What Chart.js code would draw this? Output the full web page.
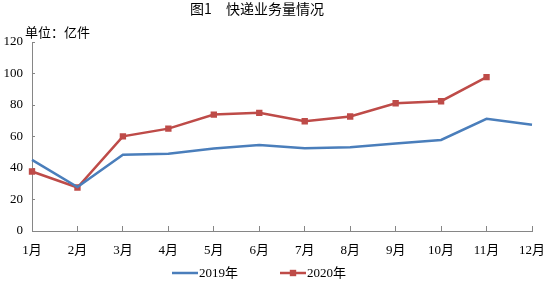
<!DOCTYPE html>
<html>
<head>
<meta charset="utf-8">
<script src="https://cdn.jsdelivr.net/npm/chart.js@4/dist/chart.umd.min.js"></script>
<style>
html,body{margin:0;padding:0;background:#fff;}
#wrap{width:545px;height:281px;}
</style>
</head>
<body>
<div id="wrap"><canvas id="c" width="545" height="281"></canvas></div>
<script>
const categories = ['1月','2月','3月','4月','5月','6月','7月','8月','9月','10月','11月','12月'];
const series2019 = [45.2, 27.9, 48.4, 49.1, 52.4, 54.6, 52.5, 53.1, 55.6, 57.8, 71.2, 67.4];
const series2020 = [37.8, 27.6, 60.1, 65.0, 73.9, 75.0, 69.7, 72.7, 81.1, 82.4, 97.7];
const seriesNames = ['2019年', '2020年'];
const yTicks = [0, 20, 40, 60, 80, 100, 120];
const titleText = '图1　快递业务量情况';
const unitText = '单位：亿件';

const BLUE = '#4a7ebb';
const RED = '#be4b48';
const AXIS = '#868686';
const SERIF = "'Liberation Serif', 'Times New Roman', 'Noto Sans CJK SC', serif";
const CJK = "'Noto Sans CJK SC', sans-serif";

const extras = {
  id: 'extras',
  afterDraw(chart) {
    const ctx = chart.ctx;
    ctx.save();
    // title
    ctx.fillStyle = '#000';
    ctx.font = '14px ' + CJK;
    ctx.textAlign = 'center';
    ctx.textBaseline = 'middle';
    ctx.fillText(titleText, 257, 9);
    // unit
    ctx.font = '13px ' + CJK;
    ctx.textAlign = 'left';
    ctx.fillText(unitText, 25, 32);
    // legend
    const items = chart.data.datasets;
    const starts = [172, 280];
    const ly = 273;
    items.forEach((ds, i) => {
      const x0 = starts[i];
      ctx.strokeStyle = ds.borderColor;
      ctx.lineWidth = 2.5;
      ctx.beginPath();
      ctx.moveTo(x0, ly);
      ctx.lineTo(x0 + 26, ly);
      ctx.stroke();
      if (ds.pointRadius > 0) {
        ctx.fillStyle = ds.pointBackgroundColor;
        ctx.fillRect(x0 + 13 - 3.2, ly - 3.2, 6.4, 6.4);
      }
      ctx.fillStyle = '#000';
      ctx.font = '13px ' + SERIF;
      ctx.textAlign = 'left';
      ctx.textBaseline = 'middle';
      ctx.fillText(ds.label, x0 + 27, ly + 1);
    });
    ctx.restore();
  }
};

new Chart(document.getElementById('c'), {
  type: 'line',
  data: {
    labels: categories,
    datasets: [
      {
        label: seriesNames[0],
        data: series2019,
        borderColor: BLUE,
        backgroundColor: BLUE,
        borderWidth: 2.5,
        pointRadius: 0,
        pointHoverRadius: 0,
        tension: 0,
        fill: false
      },
      {
        label: seriesNames[1],
        data: series2020,
        borderColor: RED,
        backgroundColor: RED,
        pointBackgroundColor: RED,
        pointBorderColor: RED,
        pointStyle: 'rect',
        pointRadius: 4.5,
        pointBorderWidth: 0,
        borderWidth: 2.5,
        tension: 0,
        fill: false
      }
    ]
  },
  options: {
    responsive: false,
    animation: false,
    layout: { padding: { top: 42, left: 0, right: 13, bottom: 25 } },
    plugins: {
      legend: { display: false },
      title: { display: false },
      tooltip: { enabled: false }
    },
    scales: {
      x: {
        type: 'category',
        offset: false,
        grid: {
          display: true,
          drawOnChartArea: false,
          drawTicks: true,
          tickLength: -5,
          color: AXIS,
          lineWidth: 1
        },
        border: { display: true, color: AXIS, width: 1 },
        ticks: {
          color: '#000',
          font: { family: SERIF, size: 13 },
          padding: 17,
          maxRotation: 0,
          autoSkip: false
        },
        afterFit(scale) {
          scale.height = 25;
          scale.paddingLeft = 11;
          scale.paddingRight = 11;
        }
      },
      y: {
        min: 0,
        max: 120,
        afterBuildTicks(scale) { scale.ticks = yTicks.map(v => ({ value: v })); },
        grid: {
          display: true,
          drawOnChartArea: false,
          drawTicks: true,
          tickLength: -3,
          color: AXIS
        },
        border: { display: true, color: AXIS, width: 1 },
        ticks: {
          color: '#000',
          font: { family: SERIF, size: 13 },
          padding: 12
        },
        afterFit(scale) { scale.width = 32; }
      }
    }
  },
  plugins: [extras]
});
</script>
</body>
</html>
